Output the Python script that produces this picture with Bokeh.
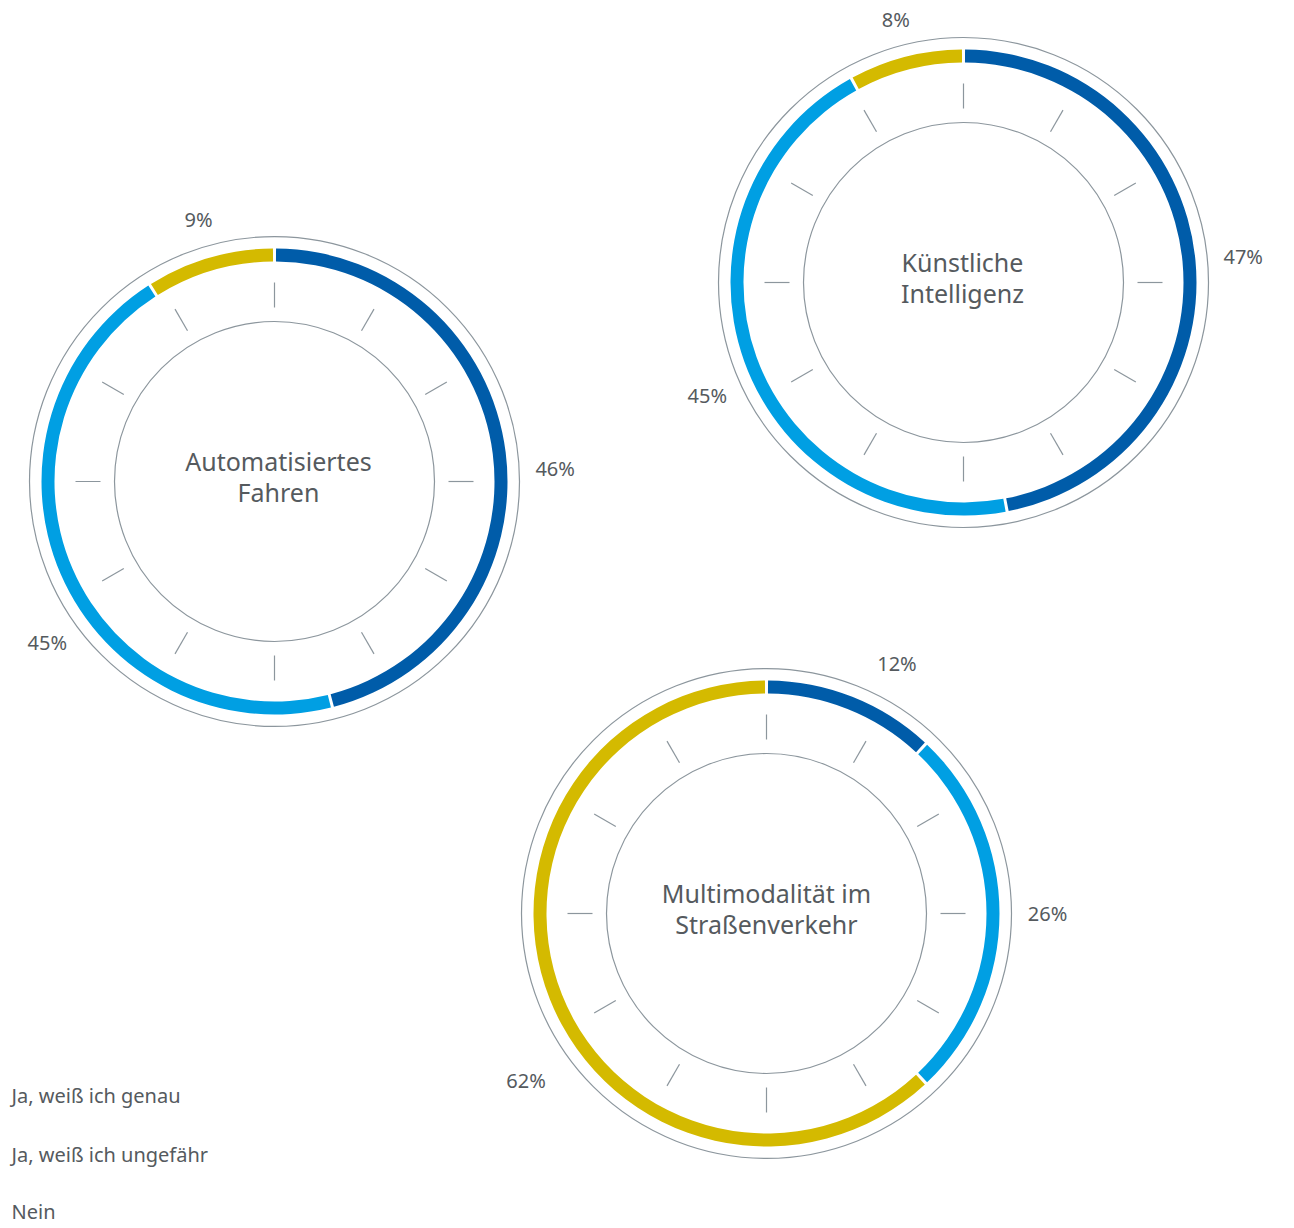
import math
from bokeh.plotting import figure
from bokeh.models import Range1d
from bokeh.embed import file_html
from bokeh.resources import INLINE
from bokeh.core.properties import value

# Survey answers per topic (percent), ordered as the legend
categories = ["Ja, weiß ich genau", "Ja, weiß ich ungefähr", "Nein"]
colors = ["#005CA9", "#009FE3", "#D4BA00"]

titles = [
    ["Automatisiertes", "Fahren"],
    ["Künstliche", "Intelligenz"],
    ["Multimodalität im", "Straßenverkehr"],
]
genau = [46, 47, 12]
ungefaehr = [45, 45, 26]
nein = [9, 8, 62]

W, H = 1294, 1228

# Layout: donut centres (screen px), title shifts and label nudges
centers = [(274, 481), (963, 282), (766, 913)]
title_dx = [4, -1, 0]
label_dang = [[4.5, -12.0, 0.0], [0.0, -4.0, 0.0], [6.0, 0.0, -13.2]]
label_drad = [[0, 0, 0], [0, 0, 0], [7, 0, 14]]

R_OUTER_THIN = 245
R_RING_OUT = 233
R_RING_IN = 220
R_TICK_OUT = 199
R_TICK_IN = 174
R_INNER = 160
GAP = 3.0 / 226.0  # angular gap between ring segments

TEXT = "#555a5e"
LINE = "#8c969d"
FONT = value("Noto Sans")

p = figure(width=W, height=H, x_range=Range1d(0, W), y_range=Range1d(0, H),
           output_backend="svg", toolbar_location=None, min_border=0)
p.axis.visible = False
p.grid.visible = False
p.outline_line_color = None
p.background_fill_color = "white"
p.border_fill_color = "white"


def sy(y):
    return H - y


for i, (cx, cy_s) in enumerate(centers):
    cy = sy(cy_s)
    vals = [genau[i], ungefaehr[i], nein[i]]
    total = float(sum(vals))

    # thin outer and inner circles
    p.circle(x=[cx, cx], y=[cy, cy], radius=[R_OUTER_THIN, R_INNER],
             fill_color=None, line_color=LINE, line_width=1.2)

    # 12 tick marks
    xs0, ys0, xs1, ys1 = [], [], [], []
    for k in range(12):
        a = math.radians(90 - 30 * k)
        xs0.append(cx + R_TICK_IN * math.cos(a))
        ys0.append(cy + R_TICK_IN * math.sin(a))
        xs1.append(cx + R_TICK_OUT * math.cos(a))
        ys1.append(cy + R_TICK_OUT * math.sin(a))
    p.segment(x0=xs0, y0=ys0, x1=xs1, y1=ys1, line_color=LINE, line_width=1.2)

    # ring segments, clockwise from the top
    cum = 0.0
    starts, ends, lx, ly, labels = [], [], [], [], []
    for j, v in enumerate(vals):
        f0 = cum / total
        f1 = (cum + v) / total
        starts.append(math.pi / 2 - 2 * math.pi * f0 - GAP / 2)
        ends.append(math.pi / 2 - 2 * math.pi * f1 + GAP / 2)
        mid_deg = 360 * (f0 + f1) / 2 + label_dang[i][j]
        th = math.radians(mid_deg)
        r_lab = 269 + 12 * abs(math.sin(th)) + label_drad[i][j]
        lx.append(cx + r_lab * math.sin(th))
        ly.append(cy + r_lab * math.cos(th))
        labels.append(f"{v}%")
        cum += v
    p.annular_wedge(x=[cx] * 3, y=[cy] * 3, inner_radius=R_RING_IN,
                    outer_radius=R_RING_OUT, start_angle=starts, end_angle=ends,
                    direction="clock", fill_color=colors, line_color=None)

    p.text(x=lx, y=ly, text=labels, text_align="center", text_baseline="middle",
           text_font=FONT, text_font_size="20px", text_color=TEXT)

    # centre title, two lines
    tx = cx + title_dx[i]
    p.text(x=[tx, tx], y=[cy + 21, cy - 10.5], text=titles[i],
           text_align="center", text_baseline="middle", text_font=FONT,
           text_font_size="25px", text_color=TEXT)

# legend entries (text only)
p.text(x=[11, 11, 11], y=[sy(1095), sy(1154), sy(1211)], text=categories,
       text_align="left", text_baseline="middle", text_font=FONT,
       text_font_size="20px", text_color=TEXT)

open("out.html", "w").write(file_html(p, INLINE))
